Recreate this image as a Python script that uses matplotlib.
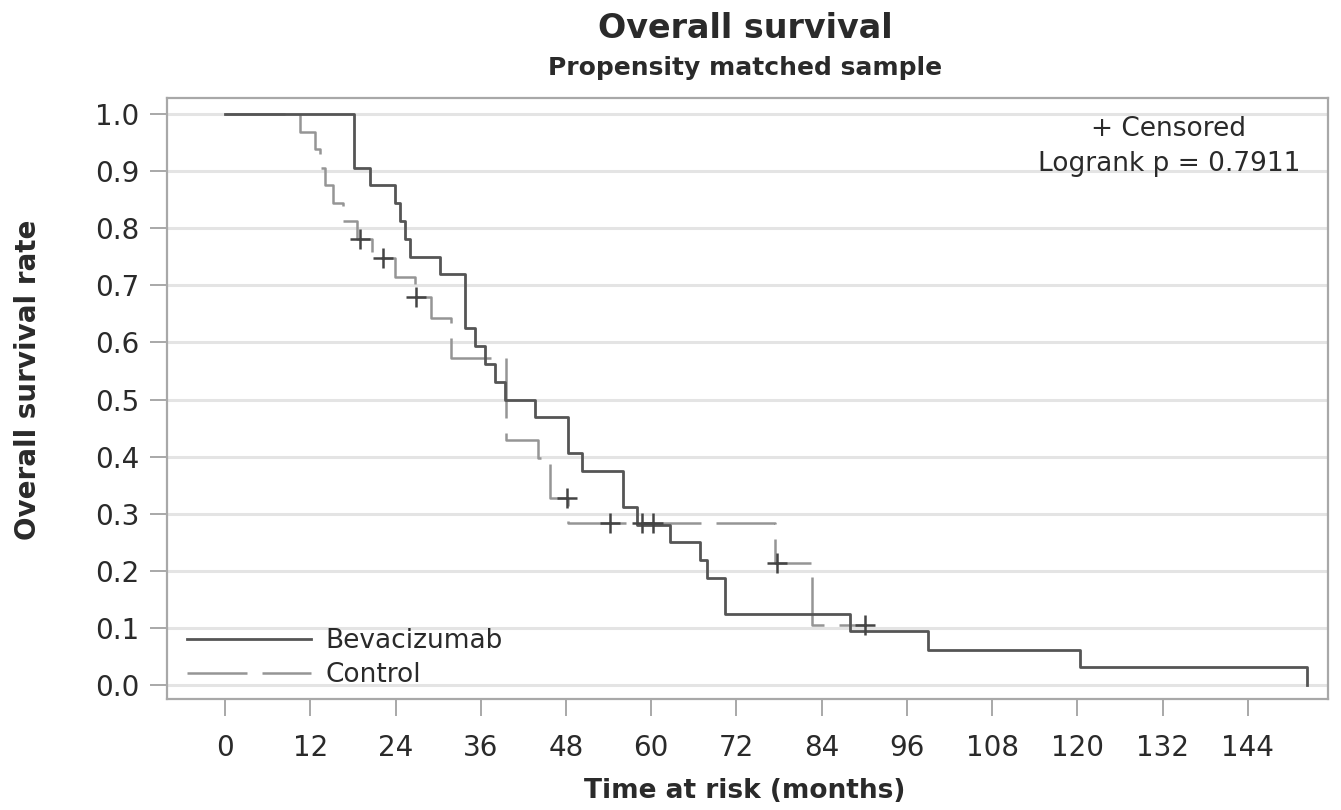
import numpy as np
import matplotlib.pyplot as plt
from matplotlib.lines import Line2D

# Kaplan-Meier curves (months, survival)
bev_t = [18.1, 20.4, 23.9, 24.6, 25.3, 26.0, 30.3, 33.8, 35.2, 36.6, 38.0, 39.4,
         43.6, 48.3, 50.3, 56.0, 58.0, 62.6, 66.9, 67.8, 70.4, 88.0, 99.0, 120.4, 152.4]
bev_s = [0.906, 0.875, 0.844, 0.812, 0.781, 0.750, 0.719, 0.625, 0.594, 0.562, 0.531, 0.500,
         0.469, 0.406, 0.375, 0.312, 0.281, 0.250, 0.219, 0.188, 0.125, 0.094, 0.062, 0.031, 0.0]

ctl_t = [10.6, 12.7, 13.4, 14.1, 15.2, 16.6, 18.5, 20.7, 23.9, 26.7, 29.0, 31.8,
         39.6, 44.1, 45.7, 48.3, 77.4, 82.6]
ctl_s = [0.969, 0.938, 0.906, 0.875, 0.844, 0.812, 0.781, 0.748, 0.715, 0.680, 0.643, 0.573,
         0.429, 0.398, 0.328, 0.284, 0.214, 0.105]
ctl_end = 90.1
ctl_cens = [19.0, 22.2, 26.9, 48.1, 54.2, 58.7, 60.2, 77.7, 90.1]

x_ticks = list(range(0, 145, 12))
y_ticks = [round(v * 0.1, 1) for v in range(11)]

txt = '#2a2a2a'
plt.rcParams['font.family'] = ['DejaVu Sans']

fig = plt.figure(figsize=(13.41, 8.10), dpi=100)
ax = fig.add_axes([0.1245, 0.137, 0.8658, 0.742])

for y in y_ticks:
    ax.axhline(y, color='#e4e4e4', lw=2.2, zorder=0)

bx = [0] + bev_t
by = [1.0] + bev_s
ax.step(bx, by, where='post', color='#555555', lw=2.0, zorder=3)

cx = [0] + ctl_t + [ctl_end]
cy = [1.0] + ctl_s + [ctl_s[-1]]
ax.step(cx, cy, where='post', color='#959595', lw=1.8, dashes=(24, 6), zorder=2)

# censor marks placed on the control curve
ct = np.array([0] + ctl_t)
cs = np.array([1.0] + ctl_s)
cens_y = cs[np.searchsorted(ct, ctl_cens, side='right') - 1]
ax.plot(ctl_cens, cens_y, ls='none', marker='+', ms=14, mew=1.8, color='#444444', zorder=4)

ax.set_xlim(-8.2, 155.3)
ax.set_ylim(-0.0245, 1.028)
ax.set_xticks(x_ticks)
ax.set_yticks(y_ticks)
ax.set_yticklabels([f'{v:.1f}' for v in y_ticks])
ax.tick_params(axis='both', labelsize=20, length=12, width=1.2, color='#9a9a9a',
               labelcolor=txt)
ax.tick_params(axis='x', pad=13)
ax.tick_params(axis='y', pad=8)
for sp in ax.spines.values():
    sp.set_color('#a8a8a8')
    sp.set_linewidth(1.6)

handles = [Line2D([], [], color='#555555', lw=2.0),
           Line2D([], [], color='#959595', lw=1.8, dashes=(24, 6))]
leg = ax.legend(handles, ['Bevacizumab', 'Control'], loc='upper left',
                bbox_to_anchor=(0.017, 0.118), frameon=False, fontsize=19,
                handlelength=4.7, handletextpad=0.55, labelspacing=0.3,
                borderaxespad=0, borderpad=0)
for t in leg.get_texts():
    t.set_color(txt)

ax.text(0.863, 0.948, '+ Censored', transform=ax.transAxes, ha='center', va='center',
        fontsize=19, color=txt)
ax.text(0.863, 0.890, 'Logrank p = 0.7911', transform=ax.transAxes, ha='center',
        va='center', fontsize=19, color=txt)

fig.text(0.5556, 0.9645, 'Overall survival', ha='center', va='center',
         fontsize=24, fontweight='bold', color=txt)
fig.text(0.5556, 0.916, 'Propensity matched sample', ha='center', va='center',
         fontsize=18, fontweight='bold', color=txt)
fig.text(0.5556, 0.0235, 'Time at risk (months)', ha='center', va='center',
         fontsize=19, fontweight='bold', color=txt)
fig.text(0.0209, 0.531, 'Overall survival rate', ha='center', va='center',
         rotation=90, fontsize=20, fontweight='bold', color=txt)

fig.savefig('out.png', dpi=100)
plt.close(fig)
